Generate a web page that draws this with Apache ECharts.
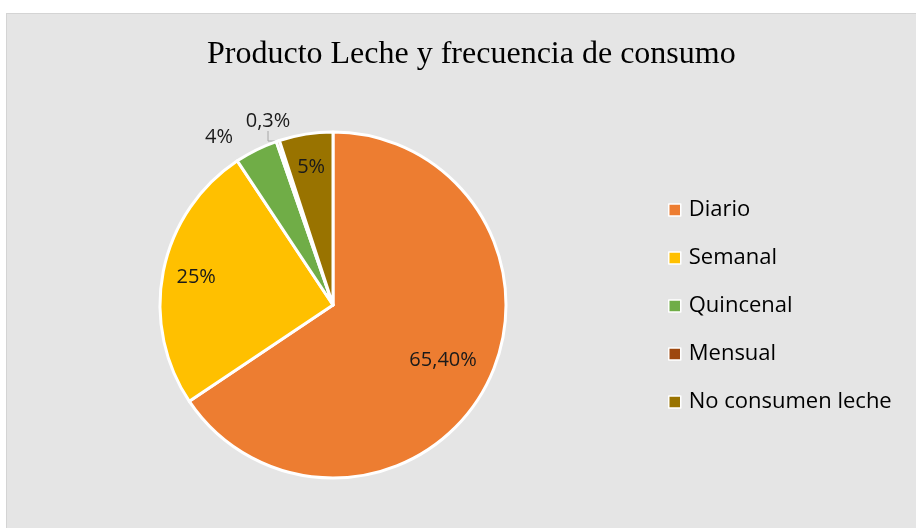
<!DOCTYPE html>
<html>
<head>
<meta charset="utf-8">
<script src="https://cdn.jsdelivr.net/npm/echarts@6/dist/echarts.min.js"></script>
<style>
  html, body { margin: 0; padding: 0; background: #fff; }
  #main {
    position: absolute; left: 6px; top: 13px;
    width: 909px; height: 514px;
    background: #e5e5e5;
    border-left: 1px solid #d4d4d4; border-top: 1px solid #d4d4d4;
  }
</style>
</head>
<body>
<div id="main"></div>
<script>
    // datos del gráfico
    var categories = ['Diario', 'Semanal', 'Quincenal', 'Mensual', 'No consumen leche'];
    var values = [65.4, 25, 4, 0.3, 5];
    var labelTexts = ['65,40%', '25%', '4%', '0,3%', '5%'];
    var colors = ['#ED7D31', '#FFC000', '#70AD47', '#9E480E', '#997300'];
    // etiquetas dentro (true) o fuera (false) del sector
    var labelInside = [true, true, false, false, true];

    var myChart = echarts.init(document.getElementById('main'));

    var center = [326, 291];
    var radius = 173;
    var font = '"Open Sans", "Noto Sans", sans-serif';

    var pieData = categories.map(function (name, i) {
        return {
            name: name,
            value: values[i],
            itemStyle: { color: colors[i] },
            label: { show: !labelInside[i] },
            labelLine: { show: i === 3 }
        };
    });

    // anillo transparente solo para colocar las etiquetas interiores
    var labelData = categories.map(function (name, i) {
        return {
            name: name,
            value: values[i],
            label: { show: labelInside[i] }
        };
    });

    var option = {
        animation: false,
        title: {
            text: 'Producto Leche y frecuencia de consumo',
            left: 195,
            top: 20,
            textStyle: {
                fontFamily: '"Liberation Serif", "DejaVu Serif", serif',
                fontWeight: 'normal',
                fontSize: 32,
                color: '#000'
            }
        },
        legend: {
            orient: 'vertical',
            left: 656,
            top: 180,
            itemWidth: 12,
            itemHeight: 12,
            itemGap: 26,
            icon: 'rect',
            itemStyle: { borderColor: '#fff', borderWidth: 1.5 },
            textStyle: {
                fontFamily: font, fontSize: 22, lineHeight: 22,
                color: '#000', padding: [0, 0, 0, 3]
            },
            data: categories
        },
        series: [{
            name: 'Consumo',
            type: 'pie',
            center: center,
            radius: [0, radius],
            startAngle: 90,
            clockwise: true,
            data: pieData,
            itemStyle: { borderColor: '#fff', borderWidth: 3 },
            label: {
                position: 'outside',
                fontFamily: font,
                fontSize: 20,
                color: '#1a1a1a',
                formatter: function (p) { return labelTexts[p.dataIndex]; }
            },
            labelLine: {
                length: 4,
                length2: 12,
                lineStyle: { color: '#a6a6a6', width: 1 }
            },
            labelLayout: function (p) {
                // posición de las etiquetas exteriores como en el original
                if (p.dataIndex === 2) {
                    return { x: 212, y: 123, align: 'center', verticalAlign: 'middle' };
                }
                if (p.dataIndex === 3) {
                    return { x: 261, y: 107, align: 'center', verticalAlign: 'middle' };
                }
            },
            emphasis: { disabled: true }
        }, {
            name: 'Etiquetas',
            type: 'pie',
            center: center,
            radius: [100, radius],
            startAngle: 90,
            clockwise: true,
            silent: true,
            legendHoverLink: false,
            data: labelData,
            itemStyle: { color: 'transparent', borderWidth: 0 },
            label: {
                position: 'inside',
                fontFamily: font,
                fontSize: 20,
                color: '#1a1a1a',
                formatter: function (p) { return labelTexts[p.dataIndex]; }
            },
            labelLine: { show: false },
            labelLayout: function (p) {
                if (p.dataIndex === 0) {
                    return { dx: -13, dy: -10 };
                }
            },
            emphasis: { disabled: true }
        }]
    };

    myChart.setOption(option);
</script>
</body>
</html>
